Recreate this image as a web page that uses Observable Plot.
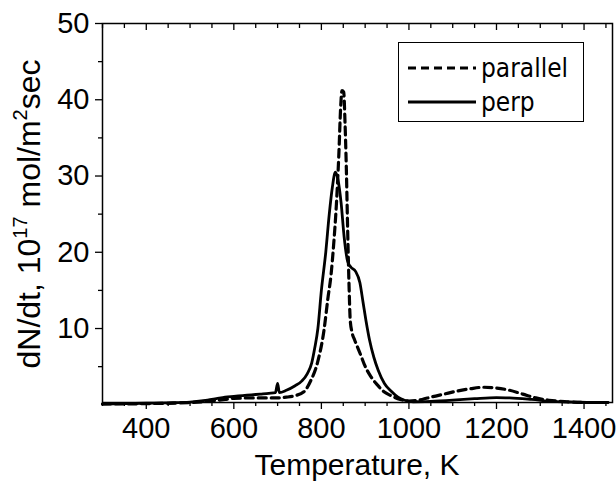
<!DOCTYPE html>
<html>
<head>
<meta charset="utf-8">
<script src="https://cdn.jsdelivr.net/npm/d3@7"></script>
<script src="https://cdn.jsdelivr.net/npm/@observablehq/plot@0.6"></script>
<style>
  html, body { margin: 0; padding: 0; background: #fff; }
  #wrap { position: relative; width: 616px; height: 482px; }
  #legend { position: absolute; left: 398px; top: 42px; width: 184px; height: 78px;
            border: 1px solid #000; background: #fff; font-family: "DejaVu Sans Condensed", "DejaVu Sans", sans-serif;
            font-stretch: condensed; font-size: 26px; color: #000; }
  #legend .row { position: absolute; left: 8px; height: 30px; display: flex; align-items: center; }
  #legend svg { margin-right: 4px; }
</style>
</head>
<body>
<div id="wrap">
  <div id="chart"></div>
  <div id="legend">
    <div class="row" style="top:10px"><svg width="70" height="10"><line x1="1" y1="5" x2="69" y2="5" stroke="#000" stroke-width="3.2" stroke-dasharray="8,5"/></svg><span>parallel</span></div>
    <div class="row" style="top:44px"><svg width="70" height="10"><line x1="1" y1="5" x2="69" y2="5" stroke="#000" stroke-width="2.8"/></svg><span>perp</span></div>
  </div>
</div>
<script>
// perp (solid)
const perpT = [300,350,400,450,500,540,560,580,600,620,640,660,680,695,700,704,720,740,755,768,778,785,792,800,810,818,825,832,838,845,852,860,868,878,888,895,902,910,920,930,944,959,975,990,1010,1050,1100,1150,1200,1230,1280,1330,1380,1420,1455];
const perpV = [0.1,0.15,0.2,0.25,0.35,0.6,0.8,1.0,1.1,1.2,1.3,1.4,1.5,1.6,2.8,1.6,1.9,2.5,3.1,4.1,5.5,7.5,10,15,20,25,28.5,30.5,29.5,26.5,22,18.8,18,17.5,16,13.5,11,8.5,6.2,4.5,2.8,1.8,1.0,0.6,0.4,0.45,0.6,0.8,0.95,0.9,0.7,0.45,0.35,0.3,0.3];
// parallel (dashed)
const parT = [300,400,500,550,580,600,650,700,720,740,760,776,791,806,815,822,828,834,840,844,847,851,854,857,860,863,866,870,876,883,890,898,913,928,943,959,980,1000,1030,1050,1080,1110,1140,1170,1200,1230,1260,1290,1320,1360,1400,1455];
const parV = [0.1,0.15,0.3,0.5,0.7,0.85,0.9,0.9,1.0,1.2,1.7,3.2,5.5,9.8,14,17,21,26,33,39,41.2,41,37,31,23,16,11,9.5,8.5,7.5,6.5,5.3,3.7,2.6,1.7,1.2,0.7,0.5,0.7,1.0,1.4,1.8,2.1,2.3,2.2,1.9,1.4,0.9,0.6,0.4,0.3,0.3];

const xMajor = [400,600,800,1000,1200,1400];
const xMinor = [300,350,450,500,550,650,700,750,850,900,950,1050,1100,1150,1250,1300,1350,1450];
const yMajor = [10,20,30,40,50];
const yMinor = [5,15,25,35,45];

const perpData = perpT.map((t, i) => ({t, v: perpV[i]}));
const parData = parT.map((t, i) => ({t, v: parV[i]}));

const font = "'Liberation Sans', Arial, sans-serif";

const chart = Plot.plot({
  width: 616, height: 482,
  marginLeft: 102, marginRight: 4, marginTop: 23, marginBottom: 80,
  x: {domain: [300, 1465]},
  y: {domain: [0.3, 50]},
  style: {fontFamily: font, fontSize: "29px", color: "#000", background: "#fff", overflow: "visible"},
  marks: [
    Plot.axisX({ticks: xMajor, tickFormat: d => String(d), tickSize: 7, tickPadding: 8, fontSize: 29, label: null, strokeWidth: 1.3}),
    Plot.axisX({ticks: xMinor, tickSize: 4, text: null, label: null, strokeWidth: 1.3}),
    Plot.axisX({anchor: "top", ticks: xMajor, tickSize: -6, text: null, label: null, strokeWidth: 1.3}),
    Plot.axisX({anchor: "top", ticks: xMinor, tickSize: -4, text: null, label: null, strokeWidth: 1.3}),
    Plot.axisY({ticks: yMajor, tickFormat: d => String(d), tickSize: 7, tickPadding: 6, fontSize: 29, label: null, strokeWidth: 1.3}),
    Plot.axisY({ticks: yMinor, tickSize: 4, text: null, label: null, strokeWidth: 1.3}),
    Plot.line(parData, {x: "t", y: "v", stroke: "#000", strokeWidth: 3.2, strokeDasharray: "8,5", curve: "monotone-x"}),
    Plot.line(perpData, {x: "t", y: "v", stroke: "#000", strokeWidth: 2.8, curve: "monotone-x"}),
    Plot.frame({stroke: "#000", strokeWidth: 1.5})
  ]
});
document.getElementById("chart").appendChild(chart);

const svg = d3.select(chart);
// x axis title
svg.append("text")
  .attr("x", 357).attr("y", 475)
  .attr("text-anchor", "middle")
  .attr("font-family", font).attr("font-size", 30).attr("fill", "#000")
  .text("Temperature, K");
// y axis title with superscripts
const yl = svg.append("text")
  .attr("transform", "translate(40,214) rotate(-90)")
  .attr("text-anchor", "middle")
  .attr("font-family", font).attr("font-size", 32).attr("fill", "#000");
yl.append("tspan").text("dN/dt, 10");
yl.append("tspan").attr("font-size", 20).attr("dy", -13).text("17");
yl.append("tspan").attr("dy", 13).text(" mol/m");
yl.append("tspan").attr("font-size", 20).attr("dy", -13).text("2");
yl.append("tspan").attr("dy", 13).text("sec");
</script>
</body>
</html>
